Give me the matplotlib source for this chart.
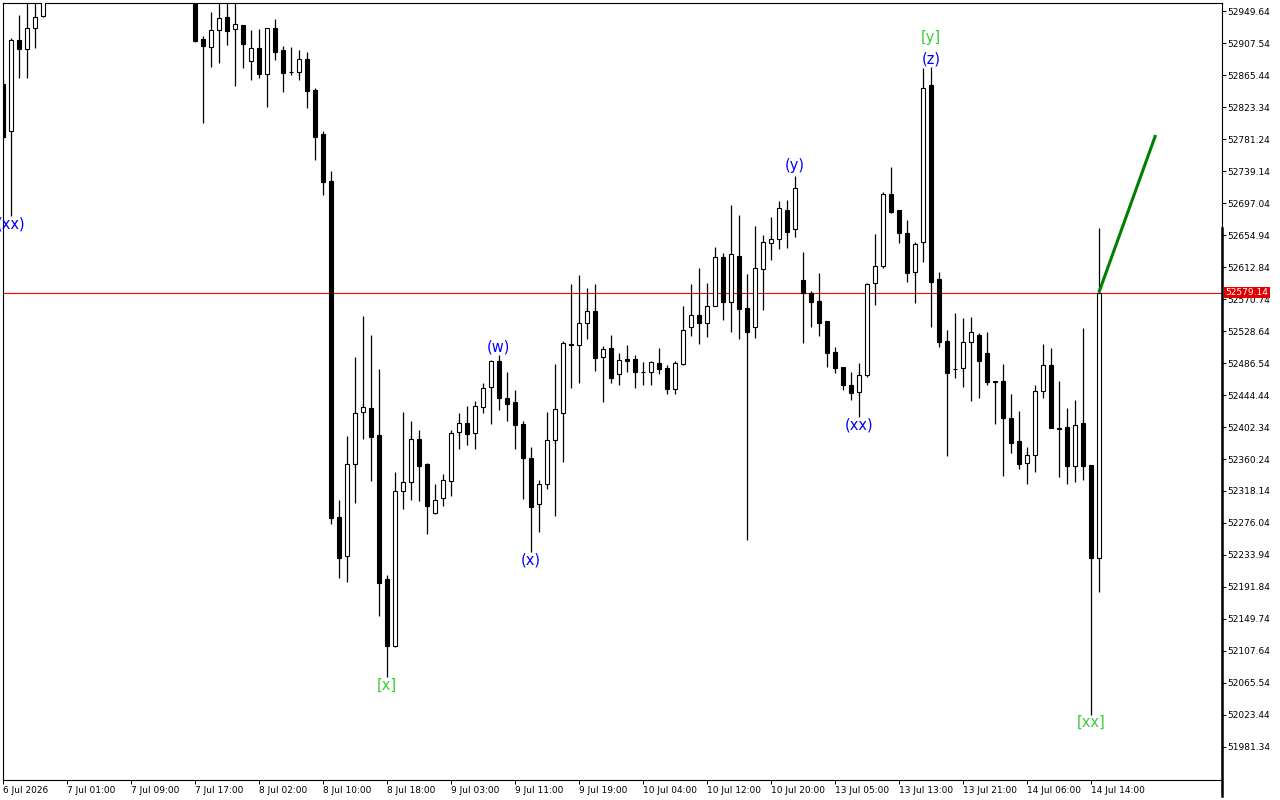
#!/usr/bin/env python3
"""H1 candle chart with Elliott-wave marks, last price line and projection."""

import matplotlib

matplotlib.use("Agg")
import matplotlib.pyplot as plt
from matplotlib.transforms import blended_transform_factory

# --- data (hourly bars, oldest first) -------------------------------------
opens = [
    52853.6, 52791.8, 52911.5, 52899.6, 52927.3, 52943.1, 52977.0, 53002.0, 53020.0, 53012.0,
    53041.0, 53066.0, 53055.0, 53034.0, 53051.0, 53083.0, 53074.0, 53046.0, 53020.0, 53038.0,
    53029.0, 53003.0, 53015.0, 52998.0, 52984.0, 52912.8, 52902.3, 52924.6, 52941.7, 52926.0,
    52931.2, 52883.9, 52901.0, 52866.8, 52927.3, 52898.3, 52869.4, 52869.4, 52886.5, 52845.7,
    52787.8, 52726.0, 52283.9, 52232.6, 52353.7, 52422.1, 52427.3, 52391.8, 52202.4, 52114.2,
    52318.1, 52330.0, 52386.6, 52353.7, 52289.2, 52308.9, 52331.3, 52395.8, 52407.6, 52394.4,
    52428.7, 52455.0, 52489.2, 52440.5, 52435.2, 52406.3, 52361.6, 52301.0, 52327.3, 52385.2,
    52420.8, 52511.5, 52510.2, 52539.2, 52555.0, 52494.4, 52506.3, 52472.1, 52491.8, 52491.8,
    52474.7, 52474.7, 52486.5, 52480.0, 52452.3, 52485.2, 52533.9, 52549.7, 52539.2, 52561.5,
    52626.0, 52566.8, 52627.3, 52558.9, 52533.9, 52610.2, 52644.4, 52649.7, 52687.8, 52662.8,
    52595.7, 52578.6, 52568.1, 52541.8, 52501.0, 52481.3, 52457.6, 52448.4, 52470.8, 52591.8,
    52614.2, 52708.9, 52687.8, 52657.6, 52606.3, 52645.7, 52852.3, 52597.1, 52515.5, 52478.6,
    52480.0, 52514.2, 52523.4, 52499.7, 52462.9, 52462.9, 52414.2, 52383.9, 52355.0, 52365.5,
    52449.7, 52483.9, 52401.0, 52402.3, 52351.0, 52407.6, 52352.3, 52230.0,
]
highs = [
    52858.9, 52914.1, 52944.4, 52966.7, 52970.7, 52990.4, 53010.0, 53031.0, 53044.0, 53050.0,
    53078.0, 53085.0, 53070.0, 53062.0, 53092.0, 53110.0, 53088.0, 53058.0, 53049.0, 53061.0,
    53040.0, 53026.0, 53032.0, 53012.0, 52995.0, 52916.7, 52948.3, 52968.1, 52968.5, 52970.0,
    52931.5, 52924.6, 52926.0, 52927.5, 52939.1, 52903.6, 52902.3, 52898.3, 52895.7, 52848.3,
    52791.8, 52739.1, 52306.3, 52390.5, 52494.4, 52548.4, 52523.4, 52478.6, 52207.6, 52343.1,
    52422.1, 52410.2, 52398.4, 52355.0, 52327.3, 52340.5, 52398.4, 52420.8, 52430.0, 52436.5,
    52460.2, 52490.5, 52497.1, 52474.7, 52451.0, 52410.2, 52376.0, 52332.6, 52422.1, 52485.2,
    52515.5, 52590.5, 52602.3, 52585.2, 52590.5, 52508.9, 52523.4, 52499.7, 52510.2, 52497.1,
    52487.9, 52489.2, 52506.3, 52483.9, 52489.2, 52561.5, 52590.5, 52611.5, 52591.8, 52639.2,
    52631.3, 52694.4, 52681.3, 52603.6, 52666.8, 52654.9, 52678.6, 52699.7, 52701.0, 52732.6,
    52632.6, 52581.3, 52604.9, 52542.2, 52507.6, 52481.8, 52474.7, 52486.5, 52591.8, 52656.3,
    52711.5, 52744.4, 52688.2, 52674.7, 52645.7, 52874.7, 52876.0, 52606.3, 52530.0, 52552.3,
    52545.7, 52547.1, 52526.0, 52527.3, 52463.2, 52485.2, 52445.8, 52423.4, 52376.0, 52457.6,
    52511.5, 52506.3, 52462.9, 52427.3, 52437.9, 52532.6, 52352.5, 52664.2,
]
lows = [
    52779.9, 52679.9, 52861.5, 52861.5, 52901.0, 52942.0, 52970.0, 52988.0, 53005.0, 53000.0,
    53030.0, 53048.0, 53027.0, 53019.0, 53045.0, 53070.0, 53040.0, 53012.0, 53006.0, 53022.0,
    52994.0, 52985.0, 52990.0, 52975.0, 52908.8, 52802.3, 52876.0, 52881.2, 52904.9, 52851.0,
    52874.7, 52858.9, 52861.5, 52823.3, 52885.2, 52843.1, 52865.4, 52858.9, 52822.0, 52753.6,
    52707.6, 52274.7, 52203.7, 52198.4, 52302.4, 52386.6, 52331.3, 52153.7, 52073.4, 52113.5,
    52294.5, 52306.3, 52305.0, 52261.6, 52288.5, 52298.4, 52311.6, 52373.4, 52378.7, 52373.4,
    52420.8, 52406.3, 52424.7, 52410.2, 52373.4, 52307.6, 52237.9, 52264.2, 52320.8, 52285.3,
    52356.3, 52453.6, 52460.2, 52518.1, 52476.0, 52435.2, 52460.2, 52457.6, 52474.7, 52453.6,
    52457.6, 52457.6, 52472.1, 52445.8, 52445.8, 52484.5, 52522.1, 52511.5, 52520.7, 52561.0,
    52543.1, 52527.3, 52518.1, 52253.7, 52519.4, 52556.3, 52622.0, 52636.5, 52637.8, 52652.3,
    52512.9, 52533.9, 52522.1, 52481.3, 52473.4, 52451.0, 52437.9, 52415.5, 52468.1, 52562.8,
    52611.5, 52683.9, 52644.4, 52593.1, 52565.5, 52619.4, 52533.9, 52507.6, 52364.2, 52466.8,
    52455.0, 52436.5, 52440.5, 52457.6, 52406.3, 52337.9, 52368.1, 52347.1, 52327.3, 52343.1,
    52440.5, 52400.5, 52336.6, 52327.3, 52330.0, 52332.6, 52023.4, 52185.3,
]
closes = [
    52783.9, 52911.5, 52899.6, 52927.3, 52941.7, 52977.3, 53002.0, 53020.0, 53012.0, 53041.0,
    53066.0, 53055.0, 53034.0, 53051.0, 53083.0, 53074.0, 53046.0, 53020.0, 53038.0, 53029.0,
    53003.0, 53015.0, 52998.0, 52984.0, 52910.2, 52903.6, 52924.6, 52940.4, 52923.3, 52932.5,
    52906.2, 52901.0, 52866.8, 52927.3, 52895.7, 52868.1, 52869.0, 52886.5, 52844.4, 52783.9,
    52724.7, 52282.6, 52230.0, 52353.7, 52420.8, 52428.7, 52389.2, 52197.1, 52114.2, 52318.1,
    52330.0, 52386.6, 52351.0, 52298.4, 52306.3, 52332.6, 52394.4, 52407.6, 52393.1, 52430.0,
    52453.6, 52489.2, 52440.5, 52432.6, 52405.0, 52361.6, 52297.1, 52327.3, 52385.2, 52426.0,
    52512.9, 52510.5, 52539.2, 52555.0, 52493.1, 52505.0, 52466.8, 52490.5, 52489.2, 52474.7,
    52474.2, 52487.9, 52478.6, 52452.3, 52486.5, 52530.0, 52549.7, 52539.2, 52561.5, 52626.0,
    52566.8, 52629.9, 52557.6, 52527.3, 52611.5, 52645.7, 52649.7, 52690.5, 52658.9, 52716.8,
    52578.6, 52566.8, 52539.2, 52499.7, 52480.0, 52457.6, 52447.1, 52470.8, 52590.5, 52614.2,
    52708.9, 52685.2, 52657.6, 52604.9, 52643.1, 52848.3, 52593.1, 52514.2, 52473.4, 52478.0,
    52514.2, 52527.3, 52489.2, 52461.5, 52461.5, 52414.2, 52381.3, 52353.7, 52365.5, 52449.7,
    52483.9, 52401.0, 52399.7, 52351.0, 52405.0, 52351.0, 52230.0, 52579.14,
]

# time axis labels, one every 8 bars
xtick_bars = [0, 8, 16, 24, 32, 40, 48, 56, 64, 72, 80, 88, 96, 104, 112, 120, 128, 136]
xtick_labels = [
    "6 Jul 2026", "7 Jul 01:00", "7 Jul 09:00", "7 Jul 17:00", "8 Jul 02:00", "8 Jul 10:00",
    "8 Jul 18:00", "9 Jul 03:00", "9 Jul 11:00", "9 Jul 19:00", "10 Jul 04:00", "10 Jul 12:00",
    "10 Jul 20:00", "13 Jul 05:00", "13 Jul 13:00", "13 Jul 21:00", "14 Jul 06:00", "14 Jul 14:00",
]
ytick_values = [
    51981.34, 52023.44, 52065.54, 52107.64, 52149.74, 52191.84, 52233.94, 52276.04,
    52318.14, 52360.24, 52402.34, 52444.44, 52486.54, 52528.64, 52570.74, 52612.84,
    52654.94, 52697.04, 52739.14, 52781.24, 52823.34, 52865.44, 52907.54, 52949.64,
]

# wave marks: bar, text, anchor ("high"/"low"), colour, pixel offset of text centre
wave_bars = [1, 62, 66, 99, 107, 116, 116, 48, 136]
wave_texts = ["(xx)", "(w)", "(x)", "(y)", "(xx)", "(z)", "[y]", "[x]", "[xx]"]
wave_anchor = ["low", "high", "low", "high", "low", "high", "high", "low", "low"]
wave_colors = ["#0000FF"] * 6 + ["#3ACD3A"] * 3
wave_dy = [-8, 8, -8, 10, -8, 8, 29, -8, -7]

# projection from the last close
proj_x = [137, 144.1]
proj_y = [52579.14, 52786.5]

Y_RANGE = (51937.9, 52960.2)
X_RANGE = (-0.04, 152.4)


def main() -> None:
    plt.rcParams["font.family"] = ["DejaVu Sans"]
    fig = plt.figure(figsize=(12.8, 8), dpi=100)
    ax = fig.add_axes([2.7 / 1280, 20 / 800, (1222 - 2.7) / 1280, 777 / 800])

    n = len(closes)
    xs = list(range(n))
    bottoms = [min(o, c) for o, c in zip(opens, closes)]
    heights = [abs(c - o) for o, c in zip(opens, closes)]
    fills = ["black" if c < o else "white" for o, c in zip(opens, closes)]

    ax.vlines(xs, lows, highs, color="black", lw=0.9, zorder=2)
    ax.bar(xs, heights, bottom=bottoms, width=0.5, color=fills,
           edgecolor="black", linewidth=0.8, zorder=3)

    last = closes[-1]
    ax.axhline(last, color="#FF0000", lw=0.8, zorder=1)
    ax.plot(proj_x, proj_y, color="#008000", lw=2.2, zorder=4, solid_capstyle="butt")

    for b, t, a, col, dy in zip(wave_bars, wave_texts, wave_anchor, wave_colors, wave_dy):
        y = highs[b] if a == "high" else lows[b]
        ann = ax.annotate(t, (b, y), xytext=(0, dy), textcoords="offset pixels",
                          ha="center", va="center", color=col, fontsize=10.5, zorder=5)
        ann.set_clip_on(True)

    ax.set_xlim(*X_RANGE)
    ax.set_ylim(*Y_RANGE)

    ax.yaxis.tick_right()
    ax.set_yticks(ytick_values)
    ax.set_yticklabels([f"{v:.2f}" for v in ytick_values])
    ax.tick_params(axis="y", direction="out", length=3, width=0.7, pad=1, labelsize=6.5)

    ax.set_xticks(xtick_bars)
    ax.set_xticklabels(xtick_labels, ha="left")
    ax.tick_params(axis="x", direction="out", length=3, width=0.7, pad=1, labelsize=6.5)

    for sp in ax.spines.values():
        sp.set_linewidth(0.8)

    # current-bar range marker on the right edge
    top_frac = (highs[-1] - Y_RANGE[0]) / (Y_RANGE[1] - Y_RANGE[0])
    ax.plot([1.0, 1.0], [top_frac, -0.02], transform=ax.transAxes,
            color="black", lw=1.8, clip_on=False, zorder=6)

    # price tag
    tr = blended_transform_factory(ax.transAxes, ax.transData)
    ax.text(1.003, last, f"{last:.2f}", transform=tr, ha="left", va="center",
            color="white", fontsize=6.5, clip_on=False, zorder=7,
            bbox=dict(boxstyle="square,pad=0.15", fc="#E00000", ec="none"))

    fig.savefig("out.png", dpi=100)


if __name__ == "__main__":
    main()
